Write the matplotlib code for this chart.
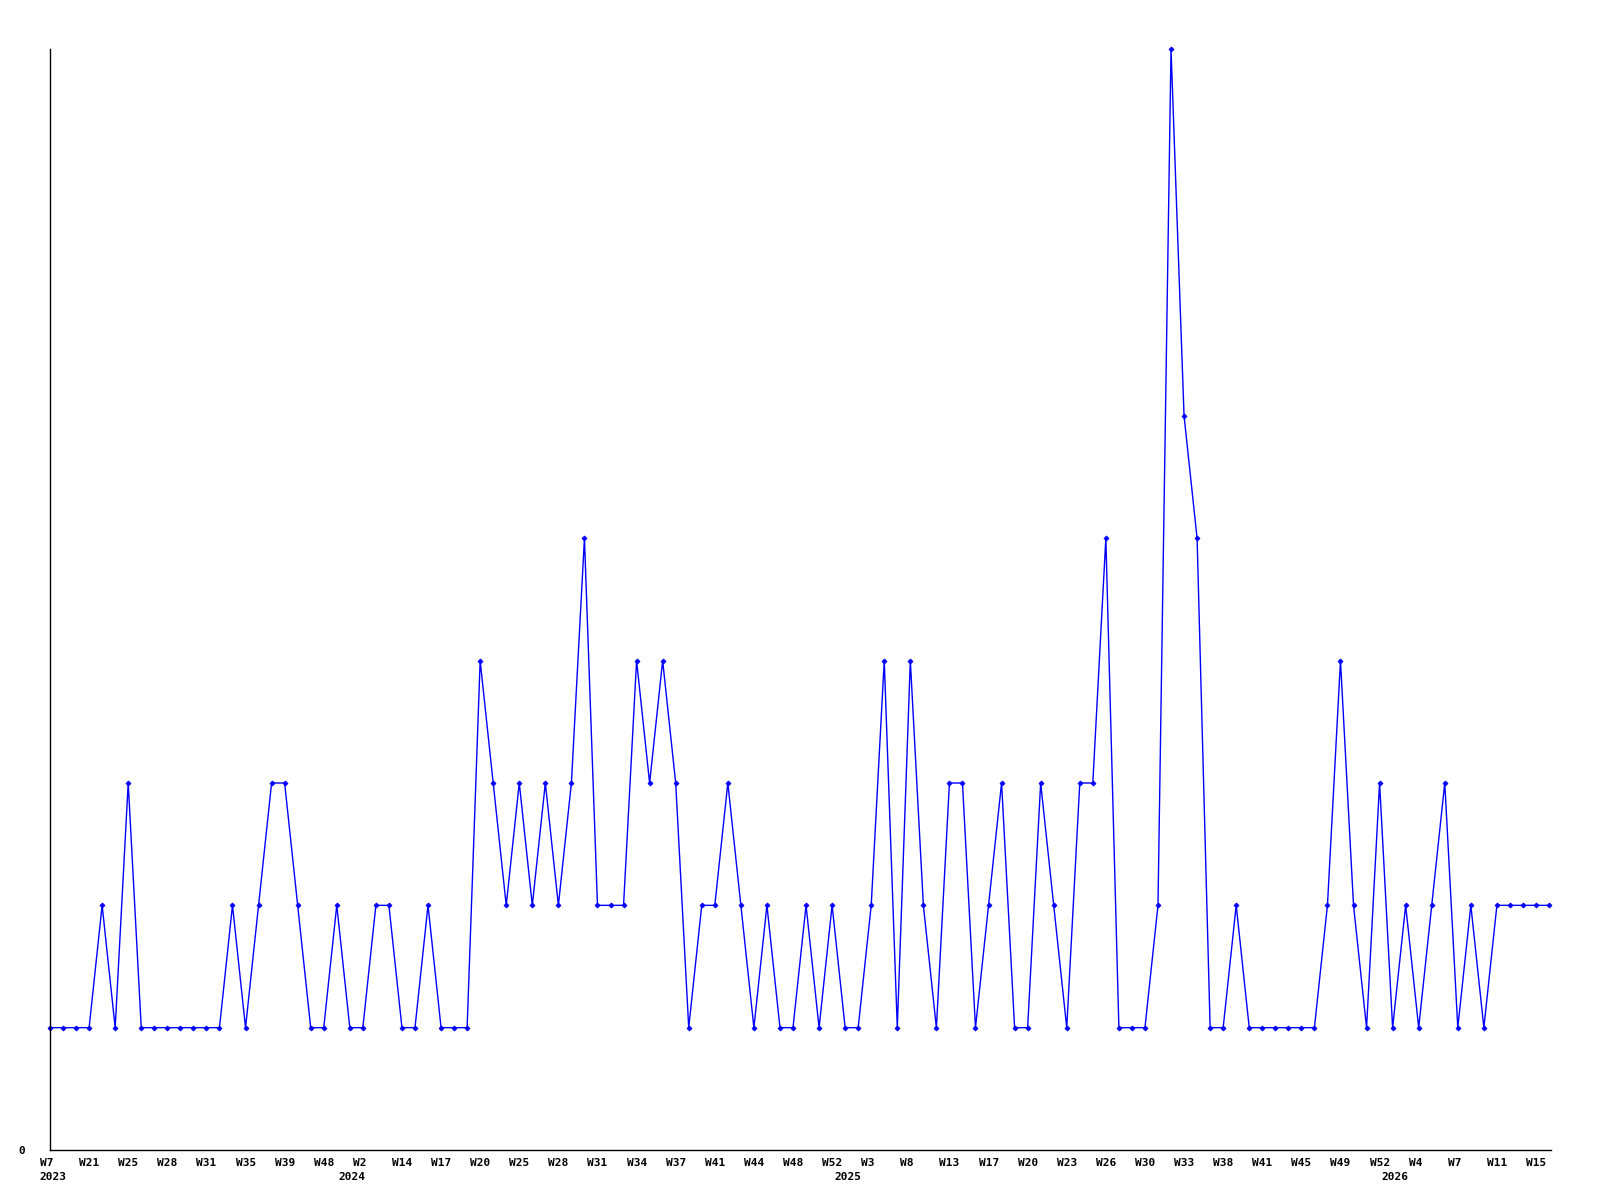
import matplotlib
matplotlib.use("Agg")
import matplotlib.pyplot as plt
import matplotlib.transforms as mtransforms

# weekly counts, one point per week that has data
counts = [1, 1, 1, 1, 2, 1, 3, 1, 1, 1,
          1, 1, 1, 1, 2, 1, 2, 3, 3, 2,
          1, 1, 2, 1, 1, 2, 2, 1, 1, 2,
          1, 1, 1, 4, 3, 2, 3, 2, 3, 2,
          3, 5, 2, 2, 2, 4, 3, 4, 3, 1,
          2, 2, 3, 2, 1, 2, 1, 1, 2, 1,
          2, 1, 1, 2, 4, 1, 4, 2, 1, 3,
          3, 1, 2, 3, 1, 1, 3, 2, 1, 3,
          3, 5, 1, 1, 1, 2, 9, 6, 5, 1,
          1, 2, 1, 1, 1, 1, 1, 1, 2, 4,
          2, 1, 3, 1, 2, 1, 2, 3, 1, 2,
          1, 2, 2, 2, 2, 2]

# a label on every third point
week_labels = ["W7", "W21", "W25", "W28", "W31", "W35", "W39", "W48", "W2",
               "W14", "W17", "W20", "W25", "W28", "W31", "W34", "W37", "W41",
               "W44", "W48", "W52", "W3", "W8", "W13", "W17", "W20", "W23",
               "W26", "W30", "W33", "W38", "W41", "W45", "W49", "W52", "W4",
               "W7", "W11", "W15"]
label_step = 3

years = ["2023", "2024", "2025", "2026"]
year_start = [0, 23, 61, 103]  # first point of each year

x = list(range(len(counts)))

fig = plt.figure(figsize=(16, 12), dpi=100)
ax = fig.add_axes([50 / 1600, 50 / 1200, 1501 / 1600, 1101 / 1200])

ax.plot(x, counts, color="#0000ff", lw=1, marker="D", ms=2.6,
        markeredgewidth=0.5, clip_on=False)

ax.set_xlim(0, len(counts) - 1 + 0.15)
ax.set_ylim(0, max(counts))

for side in ["top", "right"]:
    ax.spines[side].set_visible(False)
for side in ["left", "bottom"]:
    ax.spines[side].set_linewidth(1)

font = dict(family="DejaVu Sans Mono", weight="bold", size=8)

ax.set_yticks([0])
ax.set_yticklabels(["0"], **font)
ax.tick_params(axis="y", length=0, pad=18)

ticks = list(range(0, len(counts), label_step))
ax.set_xticks(ticks)
ax.set_xticklabels(week_labels, ha="left", **font)
ax.tick_params(axis="x", length=0, pad=6)
shift = mtransforms.ScaledTranslation(-10 / 100, 0, fig.dpi_scale_trans)
for lab in ax.get_xticklabels():
    lab.set_transform(lab.get_transform() + shift)

trans = mtransforms.blended_transform_factory(ax.transData, ax.transAxes)
trans = trans + mtransforms.ScaledTranslation(-11 / 100, -22 / 100,
                                              fig.dpi_scale_trans)
for yr, idx in zip(years, year_start):
    ax.text(idx, 0, yr, transform=trans, ha="left", va="top", **font)

fig.savefig("out.png", dpi=100)
